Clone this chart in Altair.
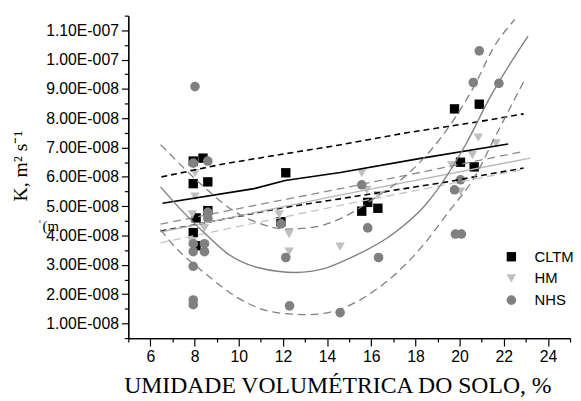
import altair as alt
import pandas as pd

# ---------------- data (x: soil moisture %, y: K in m2 s-1) ----------------
CLTM_X = [7.94, 8.38, 7.94, 8.60, 8.60, 8.07, 7.94, 8.07, 12.13, 11.91, 15.84, 15.57, 16.30, 19.77, 20.89, 20.04, 20.66]
CLTM_Y = [6.54e-8, 6.64e-8, 5.77e-8, 5.83e-8, 4.85e-8, 4.60e-8, 4.10e-8, 3.65e-8, 6.14e-8, 4.47e-8, 5.13e-8, 4.83e-8, 4.93e-8, 8.32e-8, 8.48e-8, 6.50e-8, 6.34e-8]

HM_X = [8.02, 8.02, 7.90, 8.45, 7.90, 11.83, 12.28, 12.28, 14.59, 15.57, 15.80, 16.30, 20.85, 21.65, 20.58, 19.64, 20.04]
HM_Y = [6.13e-8, 5.33e-8, 4.72e-8, 4.25e-8, 3.79e-8, 4.72e-8, 4.05e-8, 3.45e-8, 3.62e-8, 6.13e-8, 5.56e-8, 5.38e-8, 7.34e-8, 7.14e-8, 6.74e-8, 6.40e-8, 5.50e-8]

NHS_X = [8.02, 7.94, 8.60, 8.60, 8.60, 7.94, 7.94, 8.45, 8.45, 7.94, 7.94, 7.94, 11.91, 12.13, 12.30, 14.59, 15.57, 15.84, 16.33, 20.89, 20.62, 21.78, 20.04, 19.77, 19.81, 20.08]
NHS_Y = [9.08e-8, 6.47e-8, 6.54e-8, 4.79e-8, 4.58e-8, 3.72e-8, 3.45e-8, 3.72e-8, 3.45e-8, 2.95e-8, 1.80e-8, 1.64e-8, 4.40e-8, 3.25e-8, 1.60e-8, 1.37e-8, 5.73e-8, 4.26e-8, 3.25e-8, 10.30e-8, 9.22e-8, 9.19e-8, 5.90e-8, 5.56e-8, 4.05e-8, 4.05e-8]

SERIES = ["CLTM", "HM", "NHS"]

# fitted curves and 95% bands
CLTM_FIT_X = [6.55, 10.7, 12.1, 14.6, 18.3, 22.2]
CLTM_FIT_Y = [5.10e-8, 5.60e-8, 5.88e-8, 6.15e-8, 6.64e-8, 7.12e-8]
CLTM_UP_X = [6.5, 9.3, 11.7, 14.5, 17.4, 21.0, 22.9]
CLTM_UP_Y = [6.00e-8, 6.44e-8, 6.74e-8, 7.08e-8, 7.48e-8, 7.90e-8, 8.15e-8]
CLTM_LO_X = [6.46, 8.6, 12.0, 14.4, 17.5, 19.6, 21.0, 22.9]
CLTM_LO_Y = [4.15e-8, 4.45e-8, 4.95e-8, 5.23e-8, 5.60e-8, 5.85e-8, 6.05e-8, 6.30e-8]

HM_FIT_X = [6.46, 14.4, 23.2]
HM_FIT_Y = [4.12e-8, 5.35e-8, 6.64e-8]
HM_UP_X = [6.46, 14.8, 22.9]
HM_UP_Y = [4.39e-8, 5.63e-8, 6.87e-8]
HM_LO_X = [6.46, 14.4, 19.8, 22.9]
HM_LO_Y = [3.75e-8, 5.00e-8, 5.80e-8, 6.25e-8]

NHS_FIT_X = [6.46, 7.36, 8.57, 9.46, 10.9, 12.6, 13.9, 14.8, 17.1, 18.4, 20.3, 21.35, 23.1]
NHS_FIT_Y = [5.66e-8, 4.90e-8, 4.00e-8, 3.40e-8, 2.90e-8, 2.74e-8, 2.88e-8, 3.15e-8, 4.12e-8, 5.00e-8, 7.14e-8, 8.68e-8, 10.8e-8]
NHS_UP_X = [6.46, 8.57, 9.46, 10.8, 12.2, 13.5, 14.8, 16.2, 17.8, 19.6, 20.7, 21.5, 22.5]
NHS_UP_Y = [7.10e-8, 5.56e-8, 5.00e-8, 4.45e-8, 4.22e-8, 4.30e-8, 4.65e-8, 5.30e-8, 6.20e-8, 7.80e-8, 9.15e-8, 10.36e-8, 11.37e-8]
NHS_LO_X = [6.46, 6.9, 8.57, 10.2, 11.7, 13.2, 14.4, 16.3, 18.1, 19.6, 20.6, 21.7, 22.9]
NHS_LO_Y = [4.20e-8, 3.79e-8, 2.65e-8, 1.77e-8, 1.37e-8, 1.30e-8, 1.44e-8, 2.20e-8, 3.45e-8, 4.90e-8, 5.90e-8, 7.50e-8, 9.25e-8]

X_MAJOR = [6, 8, 10, 12, 14, 16, 18, 20, 22, 24]
X_MINOR = [5, 7, 9, 11, 13, 15, 17, 19, 21, 23, 25]
Y_MAJOR = [i * 1e-8 for i in range(1, 12)]
Y_MINOR = [(i + 0.5) * 1e-8 for i in range(0, 12)]

# ---------------- chart ----------------
pts = pd.concat([
    pd.DataFrame({"x": CLTM_X, "y": CLTM_Y, "s": "CLTM"}),
    pd.DataFrame({"x": HM_X, "y": HM_Y, "s": "HM"}),
    pd.DataFrame({"x": NHS_X, "y": NHS_Y, "s": "NHS"}),
], ignore_index=True)

xscale = alt.Scale(domain=[5, 25], nice=False, zero=False)
yscale = alt.Scale(domain=[0.5e-8, 1.15e-7], nice=False, zero=False)

common = dict(grid=False, domainColor="black", tickColor="black", domainWidth=1.2, tickWidth=1.2)

x_axis = alt.Axis(
    values=X_MAJOR, format="d", tickSize=8,
    labelFont="Liberation Sans", labelFontSize=16, labelColor="black", labelPadding=3,
    title="UMIDADE VOLUMÉTRICA DO SOLO, %", titleFont="Liberation Serif", titleFontSize=24,
    titleFontWeight="normal", titleColor="black", titleX=212, titleY=55,
    titleAlign="center", titleBaseline="alphabetic", orient="bottom", **common,
)
y_axis = alt.Axis(
    values=Y_MAJOR, tickSize=7,
    labelExpr="datum.value > 9.9e-8 ? format(datum.value*1e7, '.2f') + 'E-007' : format(datum.value*1e8, '.2f') + 'E-008'",
    labelFont="Liberation Sans", labelFontSize=16, labelColor="black", labelPadding=3,
    title="K, m² s⁻¹", titleFont="Liberation Serif", titleFontSize=20,
    titleFontWeight="normal", titleColor="black", titleX=-103, titleY=152,
    titleAngle=-90, titleAlign="center", titleBaseline="alphabetic", orient="left", **common,
)
x_minor_axis = alt.Axis(values=X_MINOR, tickSize=4, labels=False, title=None, orient="bottom", **common)
y_minor_axis = alt.Axis(values=Y_MINOR, tickSize=4, labels=False, title=None, orient="left", **common)

minor = alt.Chart(pts).mark_point(opacity=0).encode(
    x=alt.X("x:Q", scale=xscale, axis=x_minor_axis),
    y=alt.Y("y:Q", scale=yscale, axis=y_minor_axis),
)

leg = alt.Legend(title=None, orient="none", legendX=381, legendY=237,
                 labelFont="Liberation Sans", labelFontSize=15, labelColor="black",
                 symbolSize=100, labelOffset=16, rowPadding=6, padding=0, symbolStrokeWidth=0)

points = alt.Chart(pts).mark_point(filled=True, opacity=1, size=95).encode(
    x=alt.X("x:Q", scale=xscale, axis=x_axis),
    y=alt.Y("y:Q", scale=yscale, axis=y_axis),
    color=alt.Color("s:N", scale=alt.Scale(domain=SERIES, range=["#000000", "#c0c0c0", "#808080"]), legend=leg),
    shape=alt.Shape("s:N", scale=alt.Scale(domain=SERIES, range=["square", "triangle-down", "circle"]), legend=leg),
    size=alt.Size("s:N", scale=alt.Scale(domain=SERIES, range=[90, 95, 110]), legend=None),
)

LINES = [
    (CLTM_FIT_X, CLTM_FIT_Y, "#000000", None, 1.6, "linear"),
    (CLTM_UP_X, CLTM_UP_Y, "#000000", [6, 4], 1.6, "linear"),
    (CLTM_LO_X, CLTM_LO_Y, "#000000", [6, 4], 1.6, "linear"),
    (HM_FIT_X, HM_FIT_Y, "#b8b8b8", None, 1.4, "linear"),
    (HM_UP_X, HM_UP_Y, "#8a8a8a", [8, 5], 1.3, "linear"),
    (HM_LO_X, HM_LO_Y, "#c4c4c4", [8, 5], 1.3, "linear"),
    (NHS_FIT_X, NHS_FIT_Y, "#808080", None, 1.4, "monotone"),
    (NHS_UP_X, NHS_UP_Y, "#808080", [8, 5], 1.3, "monotone"),
    (NHS_LO_X, NHS_LO_Y, "#808080", [8, 5], 1.3, "monotone"),
]

line_layers = []
for lx, ly, col, dash, w, interp in LINES:
    kw = dict(color=col, strokeWidth=w, interpolate=interp)
    if dash:
        kw["strokeDash"] = dash
    line_layers.append(
        alt.Chart(pd.DataFrame({"x": lx, "y": ly})).mark_line(**kw).encode(
            x=alt.X("x:Q", scale=xscale, axis=None),
            y=alt.Y("y:Q", scale=yscale, axis=None),
            order="x:Q",
        )
    )

frag = alt.Chart(pd.DataFrame({"t": ["ʿ(m"]})).mark_text(
    font="Liberation Serif", fontSize=15, align="left", baseline="alphabetic", color="black"
).encode(x=alt.value(-92), y=alt.value(218), text="t:N")

chart = alt.layer(minor, points, *line_layers, frag).resolve_axis(
    x="independent", y="independent"
).properties(
    width=448, height=327,
    autosize=alt.AutoSizeParams(type="none"),
    padding={"left": 122, "top": 5, "right": 3, "bottom": 60},
).configure_view(stroke=None)

chart.save("out.html", embed_options={"renderer": "svg", "actions": False})
